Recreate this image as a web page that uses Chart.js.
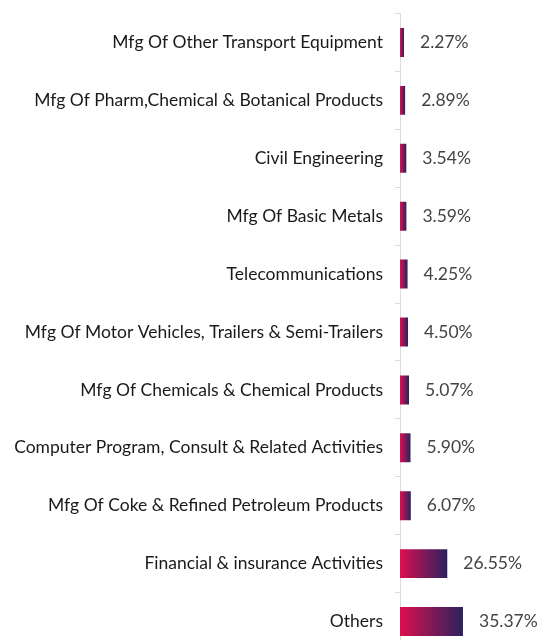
<!DOCTYPE html>
<html>
<head>
<meta charset="utf-8">
<script src="https://cdn.jsdelivr.net/npm/chart.js@4"></script>
<style>
    html, body { margin: 0; padding: 0; background: #fff; overflow: hidden; }
    #wrap { width: 538px; height: 682px; margin-top: -9px; position: relative; }
</style>
</head>
<body>
<div id="wrap"><canvas id="sectorChart"></canvas></div>
<script>
// Data
const sectors = [
    'Mfg Of Other Transport Equipment',
    'Mfg Of Pharm,Chemical & Botanical Products',
    'Civil Engineering',
    'Mfg Of Basic Metals',
    'Telecommunications',
    'Mfg Of Motor Vehicles, Trailers & Semi-Trailers',
    'Mfg Of Chemicals & Chemical Products',
    'Computer Program, Consult & Related Activities',
    'Mfg Of Coke & Refined Petroleum Products',
    'Financial & insurance Activities',
    'Others'
];
const weights = [2.27, 2.89, 3.54, 3.59, 4.25, 4.50, 5.07, 5.90, 6.07, 26.55, 35.37];

// gradient per bar, crimson -> dark purple
function barGradient(ctx) {
    const chart = ctx.chart;
    const area = chart.chartArea;
    if (!area || ctx.type !== 'data') return '#b0174f';
    const xs = chart.scales.x;
    const x0 = xs.getPixelForValue(0);
    const x1 = xs.getPixelForValue(ctx.raw);
    const g = chart.ctx.createLinearGradient(x0, 0, Math.max(x1, x0 + 1), 0);
    g.addColorStop(0, '#dc0f4f');
    g.addColorStop(1, '#2b225e');
    return g;
}

// value labels at the end of bars
const valueLabels = {
    id: 'valueLabels',
    afterDatasetsDraw(chart) {
        const c = chart.ctx;
        const meta = chart.getDatasetMeta(0);
        c.save();
        c.font = '17.5px Lato';
        c.fillStyle = '#444';
        c.textAlign = 'left';
        c.textBaseline = 'middle';
        meta.data.forEach((bar, i) => {
            c.fillText(weights[i].toFixed(2) + '%', bar.x + 16, bar.y);
        });
        c.restore();
    }
};

new Chart(document.getElementById('sectorChart'), {
    type: 'bar',
    data: {
        labels: sectors,
        datasets: [{
            data: weights,
            backgroundColor: barGradient,
            borderWidth: 0,
            barPercentage: 0.5,
            categoryPercentage: 1
        }]
    },
    options: {
        indexAxis: 'y',
        responsive: true,
        maintainAspectRatio: false,
        animation: false,
        layout: { padding: { top: 2, right: 8, bottom: 0, left: 0 } },
        plugins: {
            legend: { display: false },
            tooltip: { enabled: false }
        },
        scales: {
            x: {
                display: false,
                min: 0,
                max: 73
            },
            y: {
                afterFit(scale) { scale.width = 400; },
                grid: {
                    display: true,
                    drawOnChartArea: false,
                    drawTicks: true,
                    tickLength: 5,
                    color: '#dcdcdc'
                },
                border: { display: true, color: '#dcdcdc', width: 1 },
                ticks: {
                    padding: 12,
                    color: '#1a1a1a',
                    font: { family: 'Lato', size: 17.5 }
                }
            }
        }
    },
    plugins: [valueLabels]
});
</script>
</body>
</html>
